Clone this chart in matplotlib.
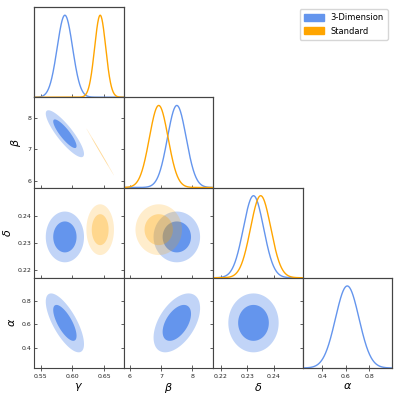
import numpy as np
import matplotlib
matplotlib.use('Agg')
import matplotlib.pyplot as plt
from matplotlib.patches import Patch

# parameters (order of the triangle)
params = ['gamma', 'beta', 'delta', 'alpha']
labels = [r'$\gamma$', r'$\beta$', r'$\delta$', r'$\alpha$']
limits = [(0.539, 0.681), (5.79, 8.66), (0.2171, 0.2507), (0.231, 0.993)]
ticks = [[0.55, 0.60, 0.65], [6, 7, 8], [0.22, 0.23, 0.24], [0.4, 0.6, 0.8]]
ticklabels = [['0.55', '0.60', '0.65'], ['6', '7', '8'],
              ['0.22', '0.23', '0.24'], ['0.4', '0.6', '0.8']]

# 3-Dimension posterior (mean, sigma, correlations)
dim3_mean = [0.588, 7.50, 0.2323, 0.612]
dim3_sigma = [0.0122, 0.30, 0.0038, 0.100]
dim3_corr = {(0, 1): -0.86, (0, 2): 0.0, (0, 3): -0.72,
             (1, 2): 0.0, (1, 3): 0.50, (2, 3): 0.0}

# Standard posterior (no alpha)
std_mean = [0.644, 6.92, 0.2350]
std_sigma = [0.0088, 0.30, 0.0038]
std_corr = {(0, 1): -0.999, (0, 2): 0.0, (1, 2): 0.0}

blue = '#6495ED'
orange = '#FFA500'
chi2_levels = [6.18, 2.30]  # 95%, 68%

n = len(params)
fig, axes = plt.subplots(n, n, figsize=(3.99, 3.99), dpi=100)
plt.subplots_adjust(left=34/399, right=392/399, top=1-7/399, bottom=1-368/399,
                    wspace=0, hspace=0)


def ellipse(mean, sigma, corr, i, j, chi2):
    cov = np.array([[sigma[j]**2, corr*sigma[i]*sigma[j]],
                    [corr*sigma[i]*sigma[j], sigma[i]**2]])
    L = np.linalg.cholesky(cov)
    t = np.linspace(0, 2*np.pi, 300)
    pts = L @ np.vstack([np.cos(t), np.sin(t)]) * np.sqrt(chi2)
    return pts[0] + mean[j], pts[1] + mean[i]


for i in range(n):
    for j in range(n):
        ax = axes[i, j]
        if j > i:
            ax.axis('off')
            continue
        for s in ax.spines.values():
            s.set_color('#444444')
            s.set_linewidth(0.8)
        ax.set_xlim(limits[j])
        ax.set_xticks(ticks[j])
        ax.tick_params(axis='x', direction='inout', length=4, width=0.6,
                       colors='#444444', labelsize=4.5, pad=2,
                       labelcolor='#222222')
        if i == n - 1:
            ax.set_xticklabels(ticklabels[j])
            ax.set_xlabel(labels[j], fontsize=8, labelpad=2)
        else:
            ax.set_xticklabels([])

        if i == j:
            ax.set_ylim(limits[i])
            if i == 0:
                ax.set_yticks([])
            else:
                ax.set_yticks(ticks[i])
                ax.set_yticklabels([])
                ax.tick_params(axis='y', direction='out', length=2.5,
                               width=0.6, colors='#444444')
            tw = ax.twinx()
            tw.set_ylim(0, 1.1)
            tw.set_yticks([])
            for s in tw.spines.values():
                s.set_color('#444444')
                s.set_linewidth(0.8)
            x = np.linspace(limits[i][0], limits[i][1], 400)
            tw.plot(x, np.exp(-0.5*((x - dim3_mean[i])/dim3_sigma[i])**2),
                    color=blue, lw=1.0)
            if i < len(std_mean):
                tw.plot(x, np.exp(-0.5*((x - std_mean[i])/std_sigma[i])**2),
                        color=orange, lw=1.0)
            continue

        ax.set_ylim(limits[i])
        ax.set_yticks(ticks[i])
        if j == 0:
            ax.set_yticklabels(ticklabels[i])
            ax.set_ylabel(labels[i], fontsize=8, labelpad=3)
            ax.tick_params(axis='y', direction='in', length=2.5, width=0.6,
                           colors='#444444', labelsize=4.5, pad=2,
                           labelcolor='#222222')
        else:
            ax.set_yticklabels([])
            ax.tick_params(axis='y', direction='out', length=2.5, width=0.6,
                           colors='#444444')

        # 3-Dimension contours
        xo, yo = ellipse(dim3_mean, dim3_sigma, dim3_corr[(j, i)], i, j, chi2_levels[0])
        ax.fill(xo, yo, color=blue, alpha=0.4, lw=0)
        xi, yi = ellipse(dim3_mean, dim3_sigma, dim3_corr[(j, i)], i, j, chi2_levels[1])
        ax.fill(xi, yi, color=blue, alpha=1.0, lw=0)

        # Standard contours
        if i < len(std_mean):
            xo, yo = ellipse(std_mean, std_sigma, std_corr[(j, i)], i, j, chi2_levels[0])
            ax.fill(xo, yo, color=orange, alpha=0.2, lw=0)
            xi, yi = ellipse(std_mean, std_sigma, std_corr[(j, i)], i, j, chi2_levels[1])
            ax.fill(xi, yi, color=orange, alpha=0.3, lw=0)

fig.legend(handles=[Patch(color=blue, label='3-Dimension'),
                    Patch(color=orange, label='Standard')],
           loc='upper right', bbox_to_anchor=(392/399, 1-5/399),
           fontsize=6, handlelength=2.4, handleheight=0.8,
           frameon=True, edgecolor='#cccccc', borderpad=0.5)

plt.savefig('out.png', dpi=100)
